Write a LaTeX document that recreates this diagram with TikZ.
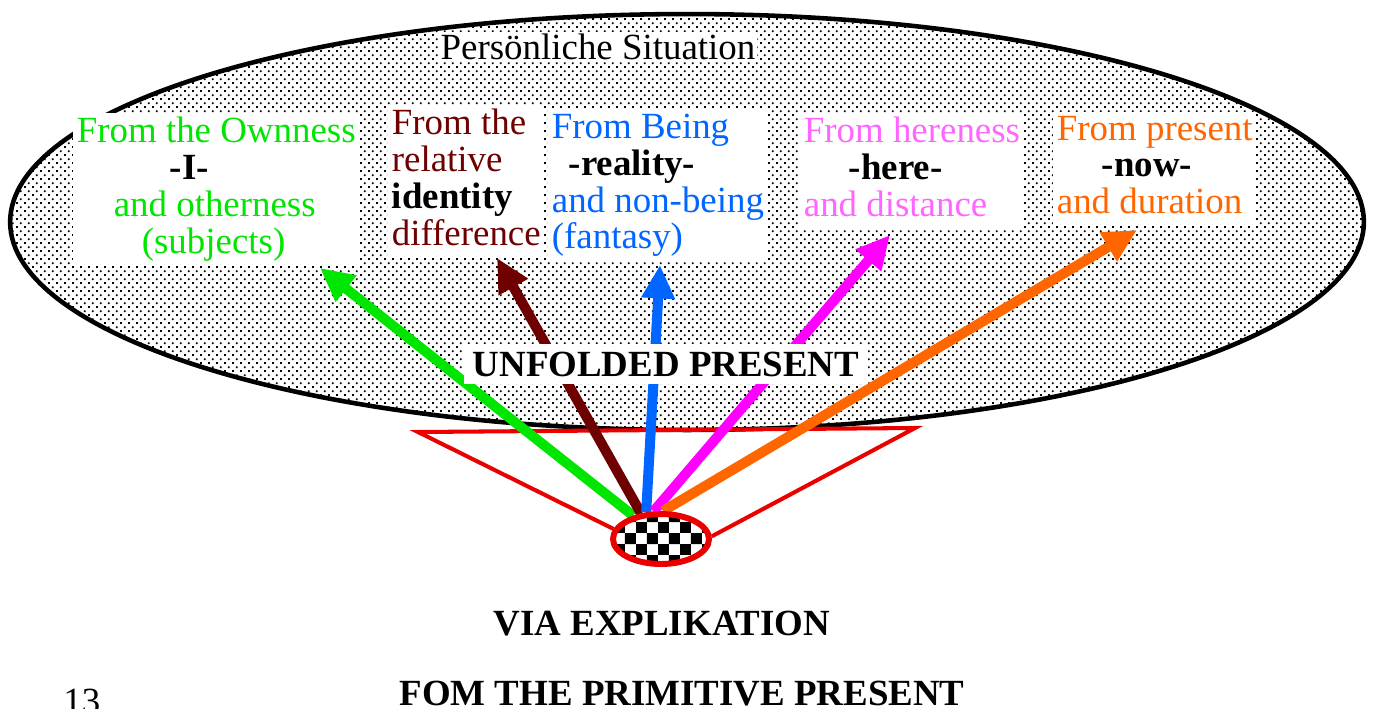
\documentclass[tikz,border=0pt]{standalone}
\usepackage{fontspec}
\setmainfont{Liberation Serif}
\usetikzlibrary{arrows.meta,shapes.geometric,patterns.meta}

\definecolor{ownness}{RGB}{0,230,0}
\definecolor{identred}{RGB}{110,0,0}
\definecolor{beingblue}{RGB}{0,102,255}
\definecolor{herepink}{RGB}{255,102,255}
\definecolor{heremag}{RGB}{255,0,255}
\definecolor{noworange}{RGB}{255,102,0}
\definecolor{rimred}{RGB}{235,0,0}

% stippled fill of the situation ellipse
\tikzdeclarepattern{
  name=stipple,
  bottom left={(0pt,0pt)},
  top right={(4.7pt,4.7pt)},
  tile size={(4.7pt,4.7pt)},
  code={
    \fill (0pt,0pt) rectangle (1.1pt,1.1pt);
    \fill (2.35pt,2.35pt) rectangle (3.45pt,3.45pt);
  }
}
% checkerboard of the primitive present
\tikzdeclarepattern{
  name=checker,
  bottom left={(0pt,0pt)},
  top right={(12.5pt,12.5pt)},
  tile size={(12.5pt,12.5pt)},
  code={
    \fill (0pt,0pt) rectangle (6.25pt,6.25pt);
    \fill (6.25pt,6.25pt) rectangle (12.5pt,12.5pt);
  }
}

\begin{document}
\begin{tikzpicture}[x=0.02cm,y=-0.02cm,
  facet/.style={fill=white,anchor=north west,inner xsep=2pt,inner ysep=2pt,align=left,
    font=\fontsize{21}{21}\selectfont},
  ray/.style={line width=5.7pt,-{Triangle[length=19pt,width=18pt]}},
  big/.style={anchor=base,font=\fontsize{21}{21}\selectfont\bfseries}]
  \useasboundingbox (0,0) rectangle (1373,708);
  % ---- persoenliche situation ----
  \draw[line width=2.6pt,pattern=stipple,preaction={fill=white}]
    (687,222) ellipse [x radius=13.54cm,y radius=4.16cm];
  \node[fill=white,inner sep=1pt,anchor=base,font=\fontsize{21}{21}\selectfont]
    (sit) at (598,59) {Persönliche Situation};
  % ---- the five facets ----
  \node[facet] (facetI) at (73,113)
    {\textcolor{ownness}{From the Ownness}\\
     \hspace*{1.86cm}\textbf{-I-}\\
     \hspace*{0.74cm}\textcolor{ownness}{and otherness}\\
     \hspace*{1.3cm}\textcolor{ownness}{(subjects)}};
  \node[facet] (facetId) at (388,105)
    {\textcolor{identred}{From the}\\
     \textcolor{identred}{relative}\\
     \textbf{identity}\\
     \textcolor{identred}{difference}\vphantom{(}};
  \node[facet] (facetReal) at (548,110)
    {\textcolor{beingblue}{From Being}\\
     \hspace*{0.34cm}\textbf{-reality-}\\
     \textcolor{beingblue}{and non-being}\\
     \textcolor{beingblue}{(fantasy)}};
  \node[facet] (facetHere) at (800,113)
    {\textcolor{herepink}{From hereness}\\
     \hspace*{0.9cm}\textbf{-here-}\\
     \textcolor{herepink}{and distance}\vphantom{(}};
  \node[facet] (facetNow) at (1053,112)
    {\textcolor{noworange}{From present}\\
     \hspace*{0.9cm}\textbf{-now-}\\
     \textcolor{noworange}{and duration}\vphantom{(}};
  % arrow tips just under the boxes
  \coordinate (tipI)    at (320,268);
  \coordinate (tipId)   at (497,258);
  \coordinate (tipReal) at (660,265);
  \coordinate (tipHere) at (890,235);
  \coordinate (tipNow)  at (1137,230);
  % ---- primitive present and its cone ----
  \coordinate (rimL) at (418,432);
  \coordinate (rimR) at (915,428);
  \node[ellipse,minimum width=1.92cm,minimum height=1.0cm,inner sep=0pt,line width=3.4pt]
    (seed) at (661,539) {};
  \draw[rimred,line width=2.3pt,line join=miter] (seed.168) -- (rimL) -- (rimR) -- (seed.3);
  % explication rays
  \draw[ray,ownness]   (seed.140) -- (tipI);
  \draw[ray,identred]  (seed.128) -- (tipId);
  \draw[ray,beingblue] (seed.119) -- (tipReal);
  \draw[ray,heremag]   (seed.105) -- (tipHere);
  \draw[ray,noworange] (seed.86)  -- (tipNow);
  \node[big,fill=white,inner xsep=5pt,inner ysep=4.5pt] (unfold) at (666,376) {UNFOLDED PRESENT};
  \draw[rimred,line width=3.4pt,pattern=checker,preaction={fill=white}]
    (seed.center) ellipse [x radius=0.96cm,y radius=0.5cm];
  % ---- captions ----
  \node[big] (via) at (662,635) {VIA EXPLIKATION};
  \node[big] (fom) at (682,705) {FOM THE PRIMITIVE PRESENT};
  \node[anchor=base west,inner sep=0pt,font=\fontsize{21}{21}\selectfont] (pagenum) at (63,713) {13};
\end{tikzpicture}
\end{document}
